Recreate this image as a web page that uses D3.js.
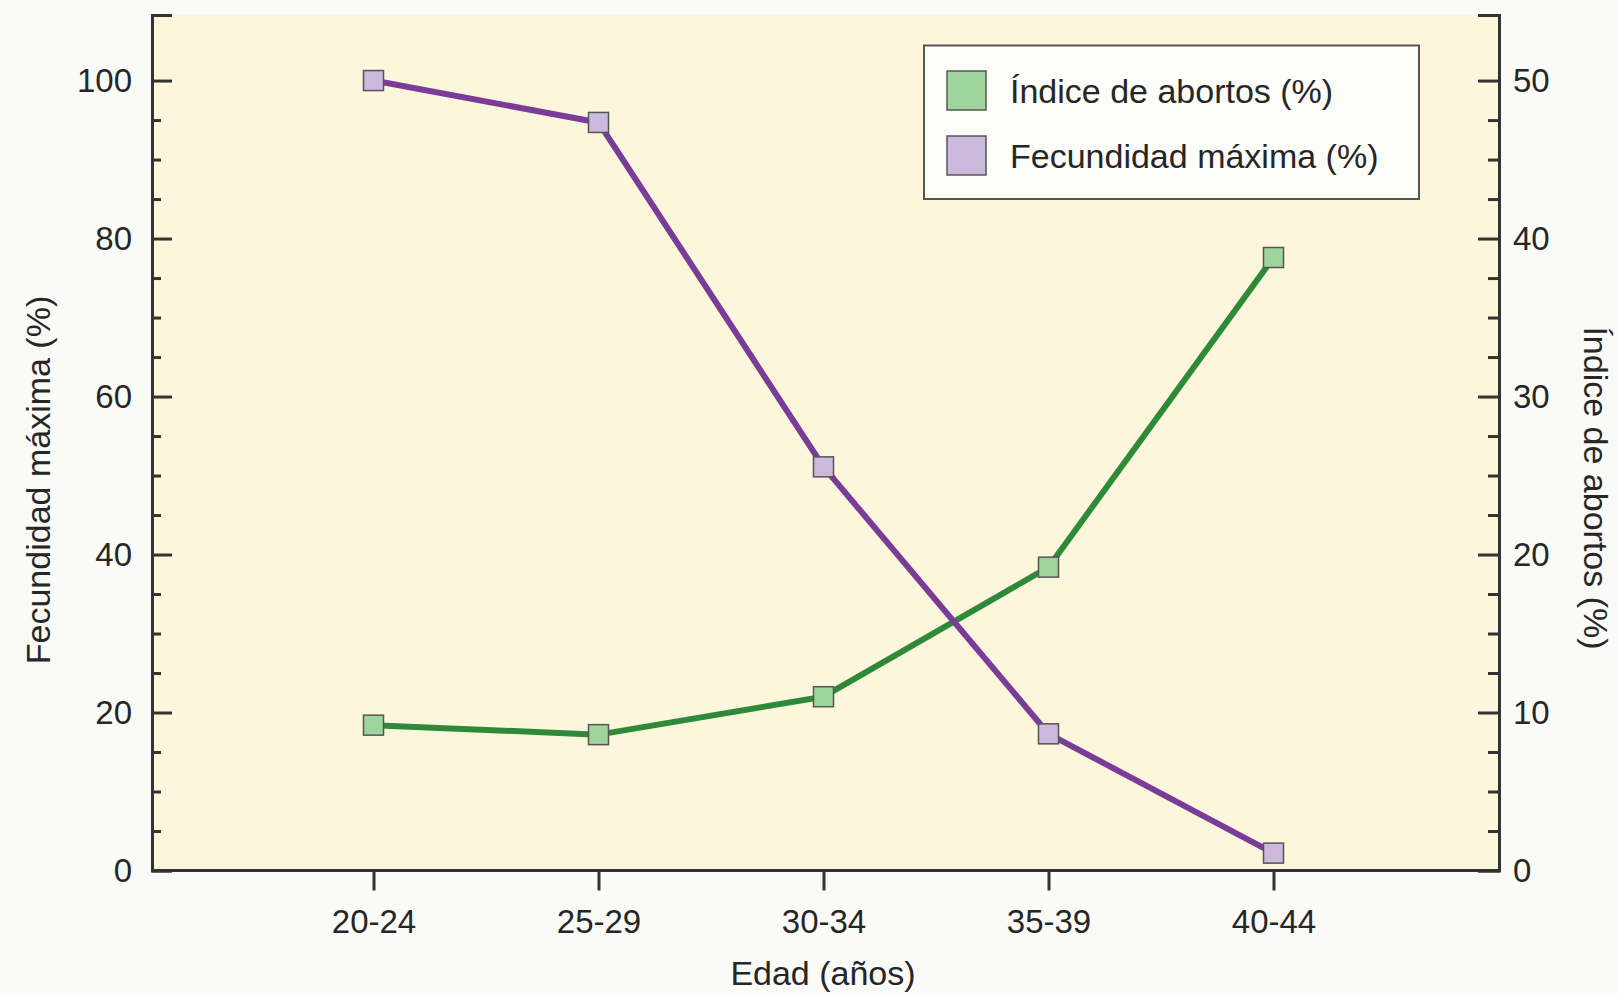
<!DOCTYPE html>
<html>
<head>
<meta charset="utf-8">
<script src="https://cdn.jsdelivr.net/npm/d3@7"></script>
<style>
  html, body { margin: 0; padding: 0; background: #fafaf6; }
  svg { display: block; font-family: "Liberation Sans", Arial, Helvetica, sans-serif; }
  .axis text { fill: #262626; font-size: 33px; }
  .axis line, .axis path { stroke: #333; stroke-width: 3; }
</style>
</head>
<body>
<div id="chart"></div>
<script>
// Data
const ageGroups = ['20-24', '25-29', '30-34', '35-39', '40-44'];
const fecundidad = [100, 94.7, 51.1, 17.3, 2.2];   // left axis (%)
const abortos = [9.2, 8.6, 11.0, 19.2, 38.8];      // right axis (%)

const leftTicks = [0, 20, 40, 60, 80, 100];
const rightTicks = [0, 10, 20, 30, 40, 50];
const leftMinor = d3.range(5, 100, 5).filter(v => v % 20 !== 0);
const rightMinor = d3.range(2.5, 50, 2.5).filter(v => v % 10 !== 0);

const W = 1619, H = 993;
const plot = { left: 152, right: 1499, top: 15, bottom: 870.5 };

const COLORS = {
  fec: { line: '#7b3c98', fill: '#cbb9de' },
  abo: { line: '#2e8a38', fill: '#9fd59c' }
};

const svg = d3.select('#chart').append('svg').attr('width', W).attr('height', H);

// scales: 100 on the left lines up with 50 on the right
const x = d3.scaleLinear().domain([0, 6]).range([148.5, 1498.5]);
const yL = d3.scaleLinear().domain([0, 108.3]).range([plot.bottom, plot.top]);
const yR = d3.scaleLinear().domain([0, 54.15]).range([plot.bottom, plot.top]);

// plot background
svg.append('rect')
  .attr('x', plot.left).attr('y', plot.top)
  .attr('width', plot.right - plot.left).attr('height', plot.bottom - plot.top)
  .attr('fill', '#fcf6dc');

// ─── AXES ───

// left: ticks point inward, labels outside
svg.append('g').attr('class', 'axis')
  .attr('transform', `translate(${plot.left},0)`)
  .call(d3.axisLeft(yL).tickValues(leftMinor).tickSize(-9).tickSizeOuter(0).tickFormat(''));
svg.append('g').attr('class', 'axis')
  .attr('transform', `translate(${plot.left},0)`)
  .call(d3.axisLeft(yL).tickValues(leftTicks).tickSize(-20).tickSizeOuter(-20).tickPadding(20));

// right
svg.append('g').attr('class', 'axis')
  .attr('transform', `translate(${plot.right},0)`)
  .call(d3.axisRight(yR).tickValues(rightMinor).tickSize(-11).tickSizeOuter(0).tickFormat(''));
svg.append('g').attr('class', 'axis')
  .attr('transform', `translate(${plot.right},0)`)
  .call(d3.axisRight(yR).tickValues(rightTicks).tickSize(-21).tickSizeOuter(-21).tickPadding(14));

// bottom
const xAxis = svg.append('g').attr('class', 'axis')
  .attr('transform', `translate(0,${plot.bottom})`)
  .call(d3.axisBottom(x).tickValues([1, 2, 3, 4, 5])
    .tickFormat(i => ageGroups[i - 1]).tickSize(20).tickPadding(19));
xAxis.select('.domain').remove();
svg.append('line')
  .attr('x1', plot.left).attr('x2', plot.right)
  .attr('y1', plot.bottom).attr('y2', plot.bottom)
  .attr('stroke', '#333').attr('stroke-width', 3);

// axis titles
svg.append('text')
  .attr('transform', `translate(50,480) rotate(-90)`)
  .attr('text-anchor', 'middle')
  .attr('font-size', 34).attr('fill', '#262626')
  .text('Fecundidad máxima (%)');

svg.append('text')
  .attr('transform', `translate(1584,488) rotate(90)`)
  .attr('text-anchor', 'middle')
  .attr('font-size', 34).attr('fill', '#262626')
  .text('Índice de abortos (%)');

svg.append('text')
  .attr('x', 823).attr('y', 985)
  .attr('text-anchor', 'middle')
  .attr('font-size', 34).attr('fill', '#262626')
  .text('Edad (años)');

// ─── SERIES ───

const drawSeries = (values, yScale, c) => {
  const pts = values.map((v, i) => ({ x: i + 1, y: v }));
  svg.append('path')
    .datum(pts)
    .attr('fill', 'none')
    .attr('stroke', c.line)
    .attr('stroke-width', 6)
    .attr('stroke-linejoin', 'round')
    .attr('d', d3.line().x(d => x(d.x)).y(d => yScale(d.y)));
  svg.append('g').selectAll('rect')
    .data(pts).enter()
    .append('rect')
    .attr('x', d => x(d.x) - 10).attr('y', d => yScale(d.y) - 10)
    .attr('width', 20).attr('height', 20)
    .attr('fill', c.fill)
    .attr('stroke', '#555').attr('stroke-width', 1.5);
};

drawSeries(abortos, yR, COLORS.abo);
drawSeries(fecundidad, yL, COLORS.fec);

// ─── LEGEND ───

const legend = svg.append('g').attr('transform', 'translate(924,45.5)');
legend.append('rect')
  .attr('width', 495).attr('height', 153.5)
  .attr('fill', '#fcfcf8').attr('stroke', '#555').attr('stroke-width', 2);

const legendItems = [
  { label: 'Índice de abortos (%)', c: COLORS.abo },
  { label: 'Fecundidad máxima (%)', c: COLORS.fec }
];
legendItems.forEach((item, i) => {
  const row = legend.append('g').attr('transform', `translate(23,${25.5 + i * 65})`);
  row.append('rect')
    .attr('width', 39).attr('height', 39)
    .attr('fill', item.c.fill).attr('stroke', '#555').attr('stroke-width', 1.5);
  row.append('text')
    .attr('x', 63).attr('y', 20).attr('dy', '0.36em')
    .attr('font-size', 34).attr('fill', '#262626')
    .text(item.label);
});
</script>
</body>
</html>
